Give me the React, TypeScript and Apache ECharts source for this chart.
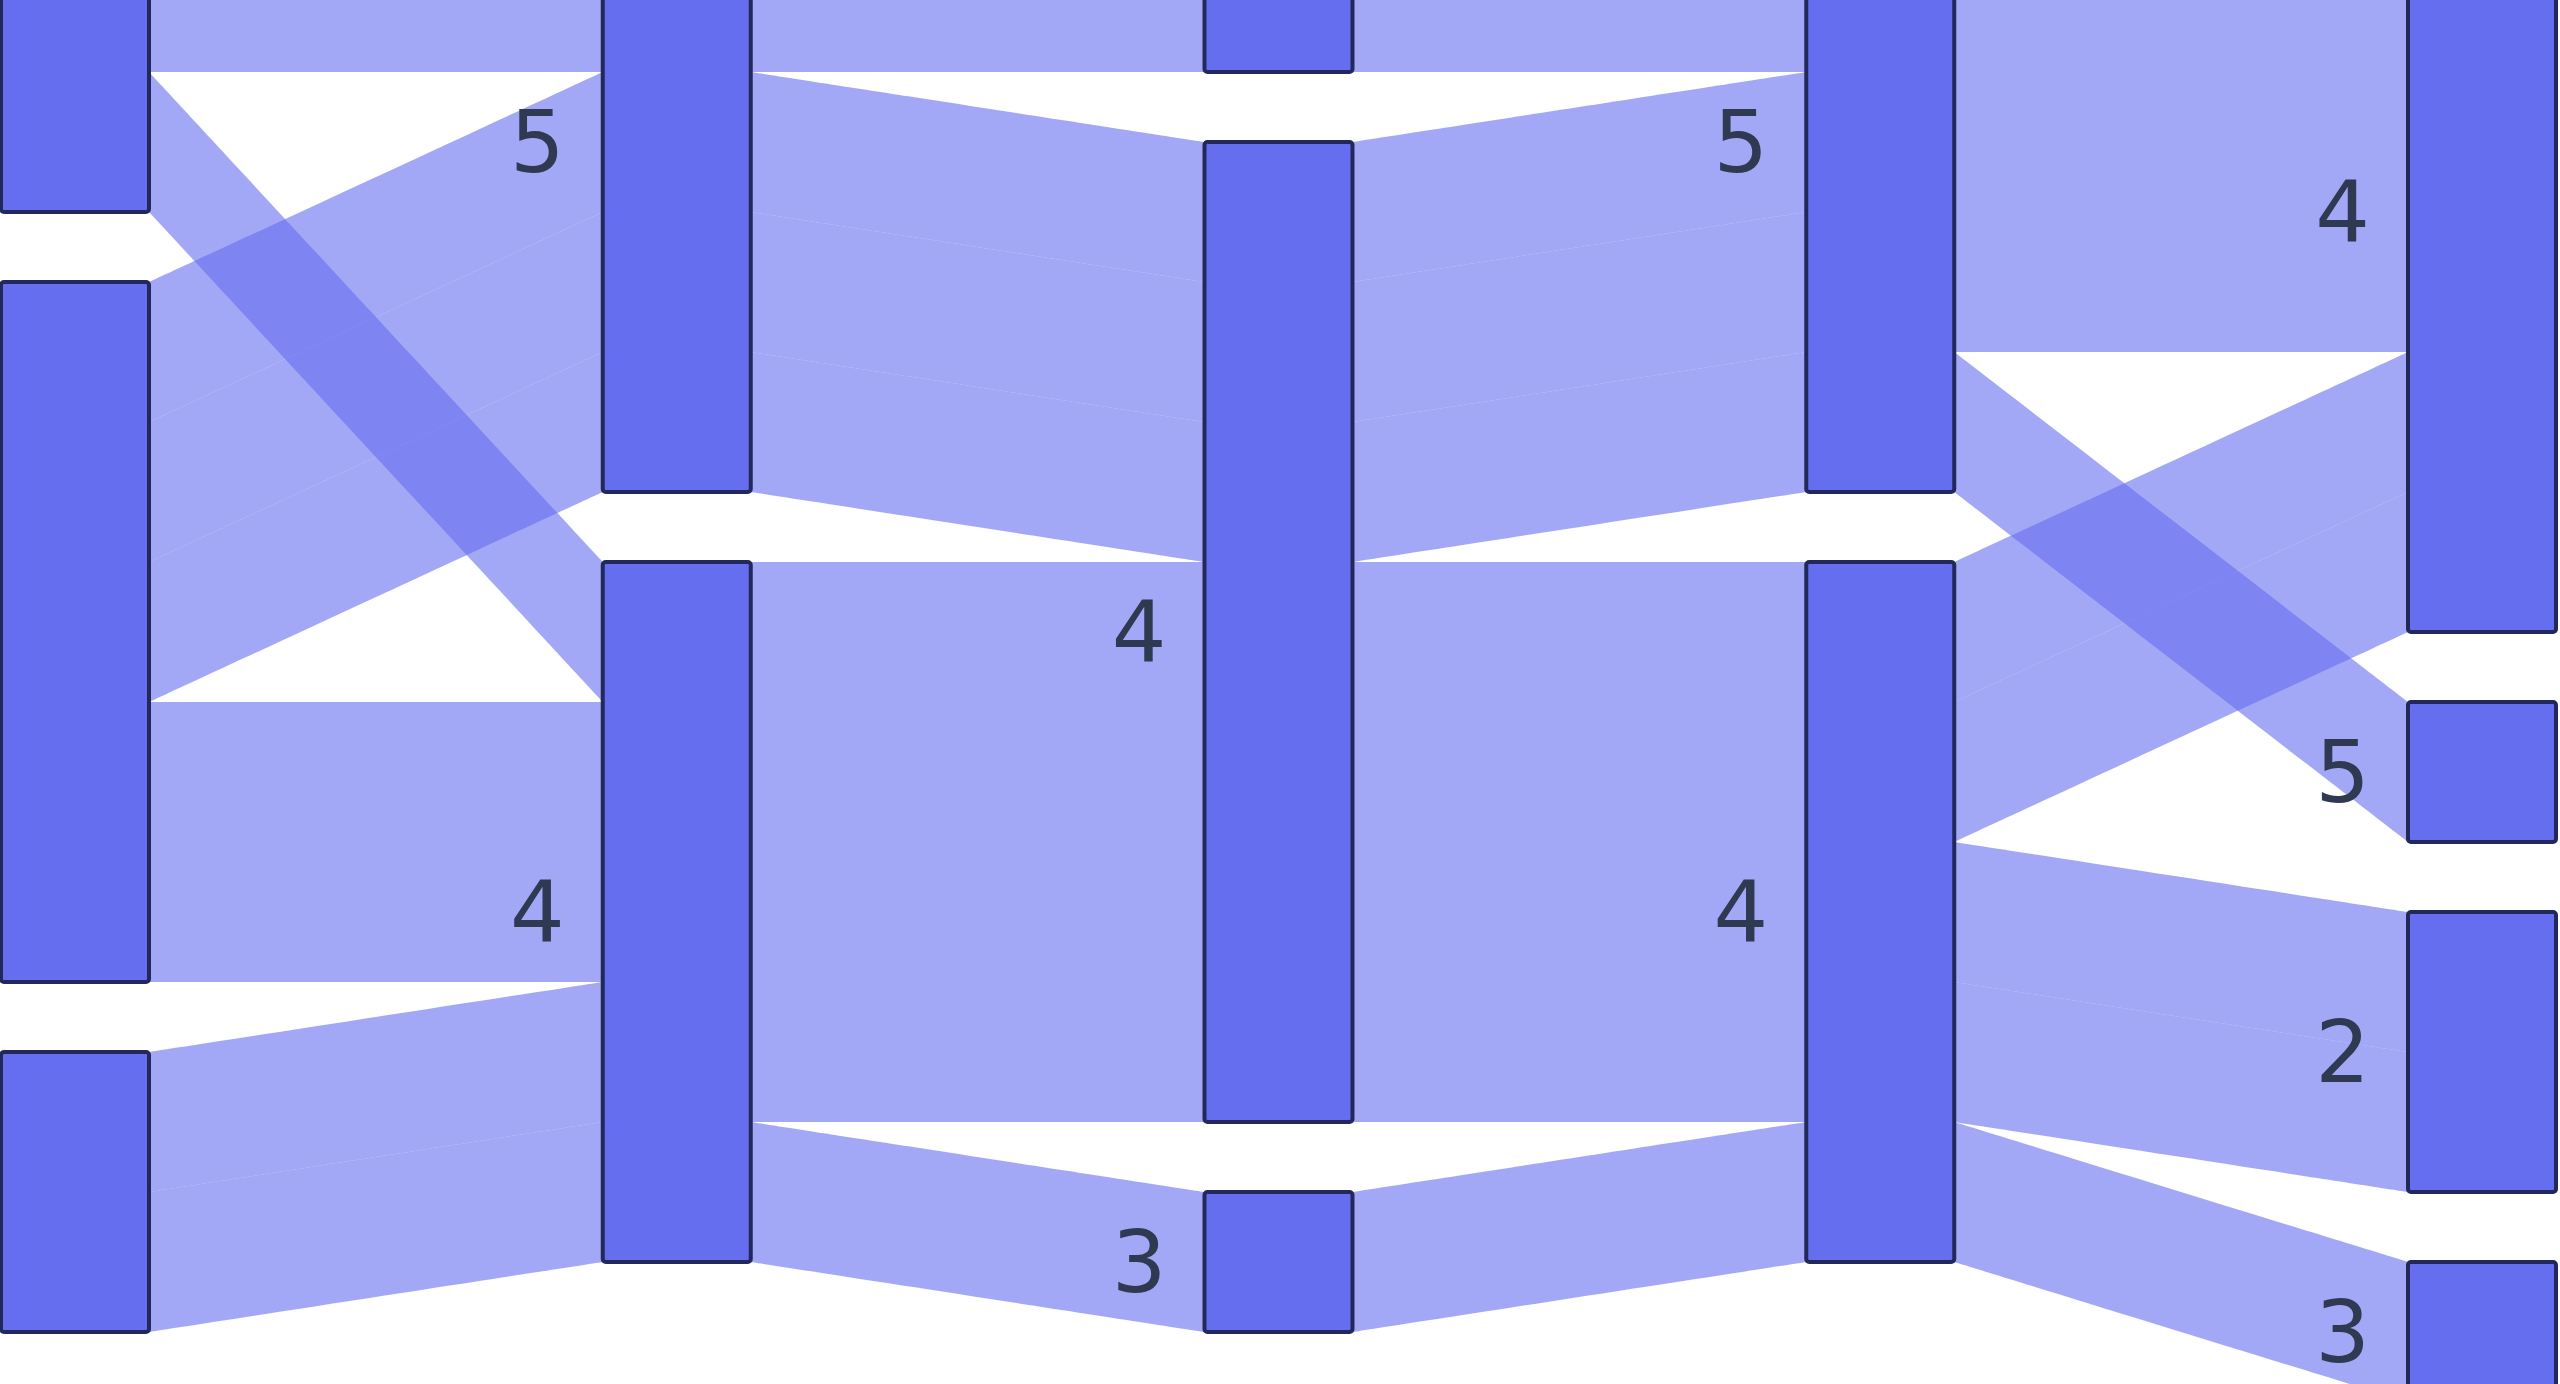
import React, { useEffect, useRef } from 'react';
import * as echarts from 'echarts';

// Five survey rounds, ten respondents, ratings on a 1-5 scale.
const stages = ['T1', 'T2', 'T3', 'T4', 'T5'];

// Order in which the rating nodes are stacked in each round (top to bottom).
const stageRatings: number[][] = [
  [5, 4, 3],
  [5, 4],
  [5, 4, 3],
  [5, 4],
  [4, 5, 2, 3],
];

// Each respondent's rating in rounds T1..T5.
const respondents: number[][] = [
  [5, 5, 5, 5, 4],
  [5, 5, 4, 5, 5],
  [4, 5, 5, 5, 4],
  [4, 5, 4, 5, 4],
  [4, 5, 4, 5, 4],
  [5, 4, 4, 4, 4],
  [4, 4, 4, 4, 4],
  [4, 4, 4, 4, 3],
  [3, 4, 4, 4, 2],
  [3, 4, 3, 4, 2],
];

// Nodes whose labels fall outside the visible frame.
const hiddenLabelNodes = ['T1|5', 'T1|4', 'T1|3', 'T3|5'];

const nodeId = (stage: string, rating: number) => `${stage}|${rating}`;

export default function App() {
  const ref = useRef<HTMLDivElement>(null);

  useEffect(() => {
    if (!ref.current) return;
    const chart = echarts.init(ref.current, undefined, { renderer: 'svg' });

    const nodes = stages.flatMap((stage, si) =>
      stageRatings[si].map((rating) => {
        const id = nodeId(stage, rating);
        const node: any = { name: id };
        if (hiddenLabelNodes.includes(id)) node.label = { show: false };
        return node;
      })
    );

    const links = respondents.flatMap((path) =>
      path.slice(0, -1).map((rating, si) => ({
        source: nodeId(stages[si], rating),
        target: nodeId(stages[si + 1], path[si + 1]),
        value: 1,
      }))
    );

    chart.setOption({
      animation: false,
      backgroundColor: '#ffffff',
      series: [
        {
          type: 'sankey',
          left: 1,
          right: 4,
          top: -208,
          bottom: -18,
          nodeWidth: 148,
          nodeGap: 70,
          layoutIterations: 0,
          nodeAlign: 'justify',
          draggable: false,
          emphasis: { disabled: true },
          itemStyle: {
            color: '#666ef0',
            borderColor: '#23285a',
            borderWidth: 4,
            borderRadius: 3,
          },
          lineStyle: {
            color: '#666ef0',
            opacity: 0.6,
            curveness: 0,
          },
          label: {
            show: true,
            position: 'left',
            distance: 36,
            color: '#2f3a52',
            fontSize: 86,
            fontFamily: 'DejaVu Sans',
            formatter: (p: any) => String(p.name).split('|')[1],
          },
          data: nodes,
          links,
        },
      ],
    });

    return () => chart.dispose();
  }, []);

  return (
    <div
      ref={ref}
      style={{ position: 'fixed', left: 0, top: 0, width: '2560px', height: '1384px', background: '#fff' }}
    />
  );
}
